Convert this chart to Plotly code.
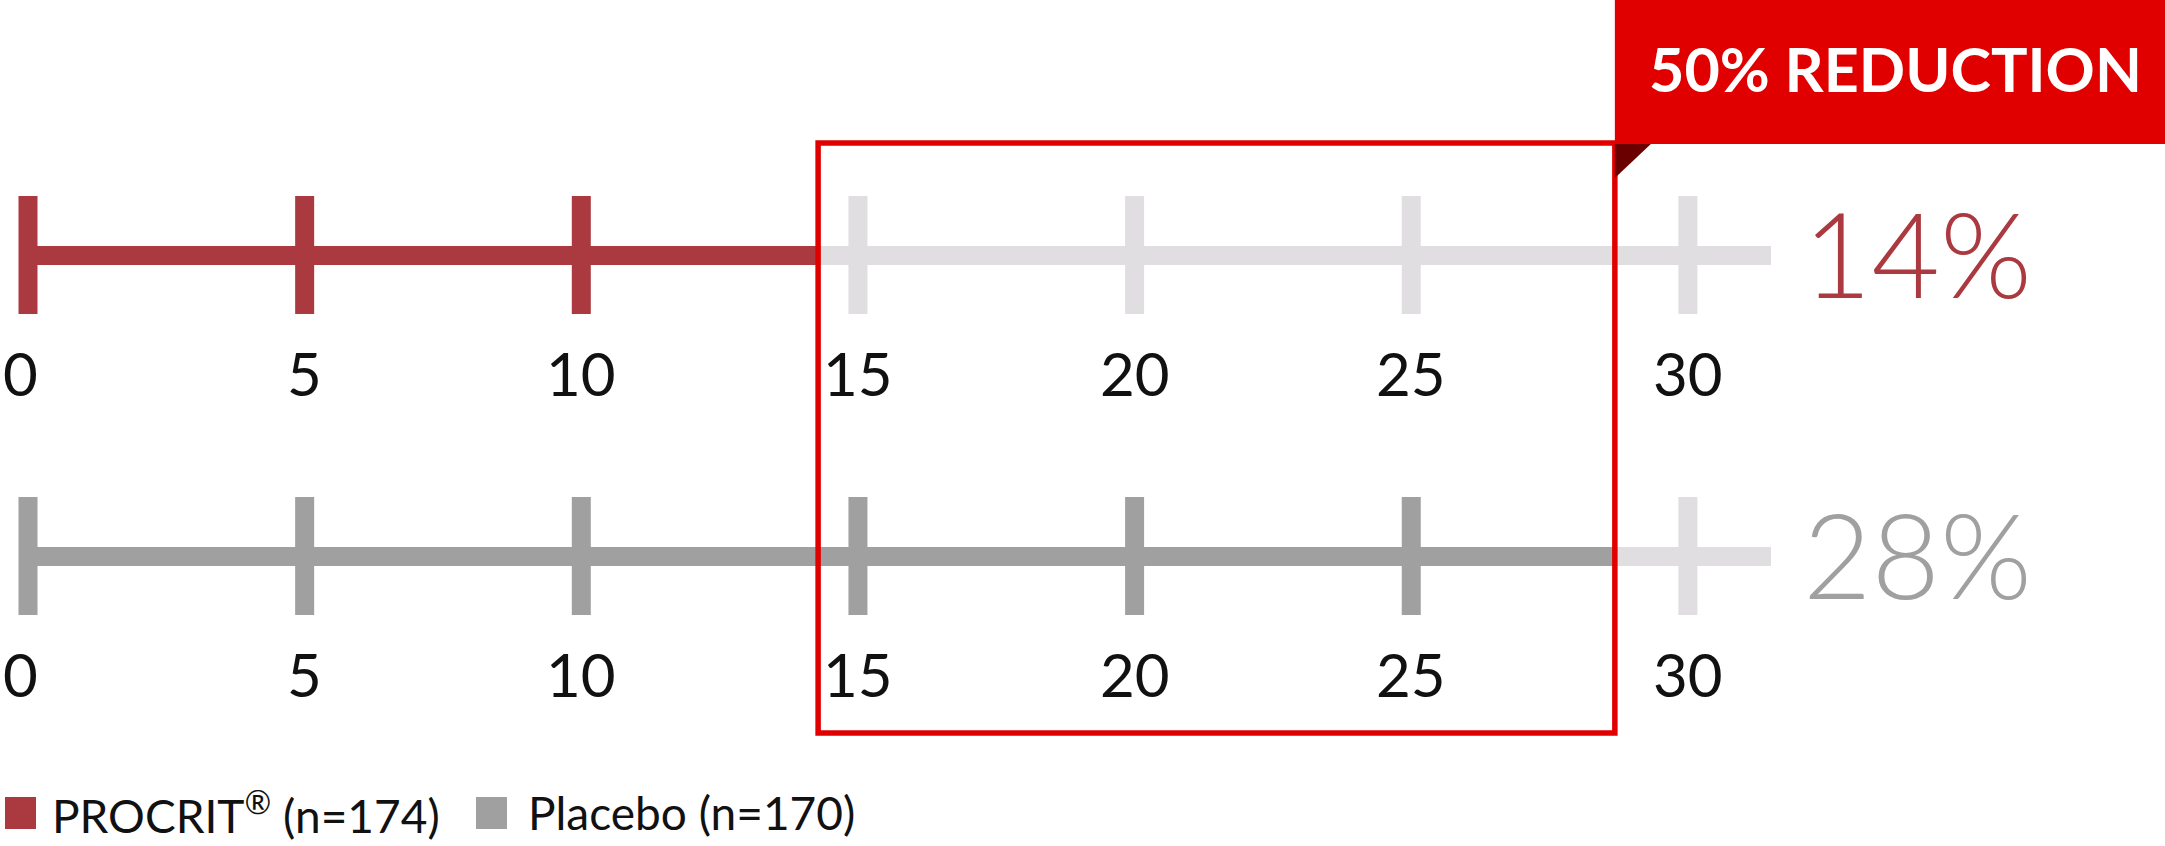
import plotly.graph_objects as go

# values
ticks = [0, 5, 10, 15, 20, 25, 30]
groups = ["PROCRIT<sup>®</sup> (n=174)", "Placebo (n=170)"]
rate_labels = ["14%", "28%"]
bar_end = [14.28, 28.68]       # where each coloured bar stops on the 0-30 scale
track_start = -0.17
track_end = 31.5
reduction_text = "50% REDUCTION"

bar_colors = ["#AB3A40", "#A0A0A0"]
track_color = "#E0DEE1"
box_red = "#E00000"

# page geometry (px)
W, H = 2165, 846
X0_PX, PX_PER_UNIT = 28, 55.33
ROW0_PX, ROW_GAP_PX = 255, 301


def yd(px):
    return (px - ROW0_PX) / ROW_GAP_PX


x_range = [-X0_PX / PX_PER_UNIT, (W - X0_PX) / PX_PER_UNIT]
y_range = [yd(H), yd(0)]

bar_h = 19 / ROW_GAP_PX
tick_w = 19 / PX_PER_UNIT
tick_h = 118 / ROW_GAP_PX

fig = go.Figure()

rows = list(range(len(groups)))

# light background tracks
fig.add_trace(go.Bar(
    y=rows, x=[track_end - track_start] * len(rows), base=[track_start] * len(rows),
    orientation="h", width=bar_h, marker=dict(color=track_color, line=dict(width=0)),
    hoverinfo="skip", showlegend=False
))
# coloured bars
fig.add_trace(go.Bar(
    y=rows, x=[e - track_start for e in bar_end], base=[track_start] * len(rows),
    orientation="h", width=bar_h, marker=dict(color=bar_colors, line=dict(width=0)),
    hoverinfo="skip", showlegend=False
))

shapes = []
annotations = []
for i in rows:
    for t in ticks:
        c = bar_colors[i] if t <= bar_end[i] else track_color
        shapes.append(dict(type="rect", xref="x", yref="y",
                           x0=t - tick_w / 2, x1=t + tick_w / 2,
                           y0=i - tick_h / 2, y1=i + tick_h / 2,
                           fillcolor=c, line=dict(width=0), layer="above"))
        # number under the tick; the 0 sits flush with the left edge
        annotations.append(dict(
            x=t, y=i, xref="x", yref="y", yshift=-118,
            xanchor="left" if t == 0 else "center",
            xshift=-27 if t == 0 else 0,
            text=str(t), showarrow=False, yanchor="middle",
            font=dict(family="Lato", size=60, color="#111111")
        ))

# red highlight box between the two bar ends
shapes.append(dict(type="rect", xref="x", yref="y",
                   x0=bar_end[0], x1=bar_end[1], y0=yd(143), y1=yd(733),
                   line=dict(color=box_red, width=5.5), fillcolor="rgba(0,0,0,0)"))
# ribbon + fold
shapes.append(dict(type="rect", xref="x", yref="y",
                   x0=bar_end[1], x1=x_range[1] + 1, y0=yd(-5), y1=yd(144),
                   fillcolor=box_red, line=dict(width=0)))
fold = 36 / PX_PER_UNIT
shapes.append(dict(type="path", xref="x", yref="y",
                   path=f"M {bar_end[1]},{yd(144)} L {bar_end[1] + fold},{yd(144)} L {bar_end[1]},{yd(178)} Z",
                   fillcolor="#6B0000", line=dict(width=0)))

annotations.append(dict(
    x=1895 / W, y=1 - 69 / H, xref="paper", yref="paper",
    text=f"<b>{reduction_text}</b>", showarrow=False,
    xanchor="center", yanchor="middle",
    font=dict(family="Lato", size=61, color="white")
))

for i in rows:
    annotations.append(dict(
        x=track_end + 0.55, y=i, xref="x", yref="y", yshift=3,
        text=rate_labels[i], showarrow=False, xanchor="left", yanchor="middle",
        font=dict(family="Lato", size=118, color=bar_colors[i], weight=300)
    ))

# legend drawn by hand
leg_sq_x = [5, 476]
leg_txt_x = [50, 526]
for i in rows:
    shapes.append(dict(type="rect", xref="paper", yref="paper",
                       x0=leg_sq_x[i] / W, x1=(leg_sq_x[i] + 31) / W,
                       y0=1 - 829 / H, y1=1 - 797 / H,
                       fillcolor=bar_colors[i], line=dict(width=0)))
    annotations.append(dict(
        x=leg_txt_x[i] / W, y=1 - 812 / H, xref="paper", yref="paper",
        text=groups[i], showarrow=False, xanchor="left", yanchor="middle",
        font=dict(family="Lato", size=46, color="#111111")
    ))

fig.update_layout(
    width=W, height=H,
    margin=dict(l=0, r=0, t=0, b=0),
    paper_bgcolor="white", plot_bgcolor="white",
    barmode="overlay", bargap=0,
    xaxis=dict(range=x_range, visible=False, fixedrange=True),
    yaxis=dict(range=y_range, visible=False, fixedrange=True),
    shapes=shapes, annotations=annotations,
    showlegend=False
)

fig.write_html("out.html", post_script="document.body.style.margin='0';",
               config={"displayModeBar": False})
